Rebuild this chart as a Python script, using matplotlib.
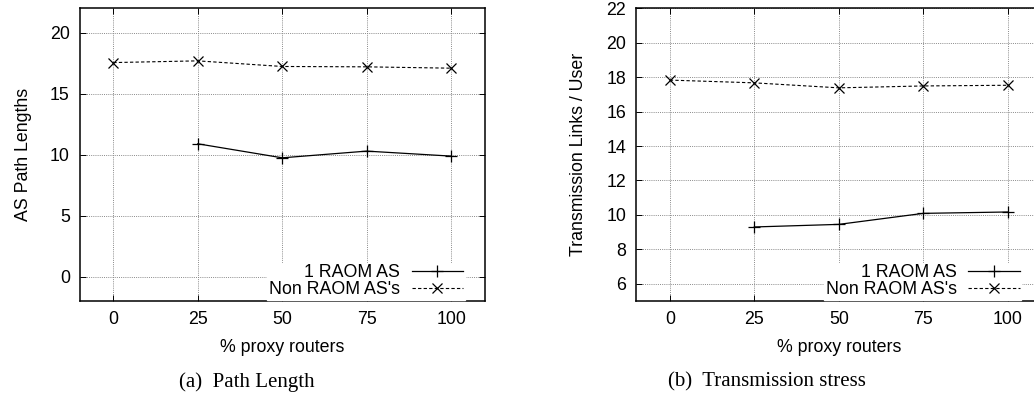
import matplotlib
matplotlib.use("Agg")
import matplotlib.pyplot as plt

# ---- data ----
proxy_pct = [0, 25, 50, 75, 100]
raom_x = [25, 50, 75, 100]

path_raom = [10.89, 9.74, 10.29, 9.88]
path_non = [17.55, 17.69, 17.23, 17.20, 17.09]

stress_raom = [9.30, 9.45, 10.09, 10.17]
stress_non = [17.83, 17.67, 17.38, 17.49, 17.53]

labels = ["1 RAOM AS", "Non RAOM AS's"]
xticks = [0, 25, 50, 75, 100]
path_yticks = [0, 5, 10, 15, 20]
stress_yticks = [6, 8, 10, 12, 14, 16, 18, 20, 22]

plt.rcParams['font.family'] = ['Liberation Sans', 'DejaVu Sans']

W, H = 1034, 400
FS = 12.8
fig = plt.figure(figsize=(W / 100, H / 100), dpi=100)

def make_axes(x0, x1, y0, y1):
    return fig.add_axes([x0 / W, 1 - y1 / H, (x1 - x0) / W, (y1 - y0) / H])

def style(ax, yticks, ylim, ylabel, ylabelpad, x0, x1):
    ax.set_xlim(-10, 110)
    ax.set_ylim(*ylim)
    ax.set_xticks(xticks)
    ax.set_yticks(yticks)
    ax.grid(True, color='#8a8a8a', linestyle=(0, (1, 1.2)), linewidth=0.7)
    ax.set_axisbelow(True)
    ax.tick_params(direction='in', length=4, width=0.7, top=True, right=True,
                   labelsize=FS, pad=7)
    for s in ax.spines.values():
        s.set_linewidth(1.1)
    ax.set_xlabel("% proxy routers", fontsize=FS, labelpad=8)
    ax.set_ylabel(ylabel, fontsize=FS, labelpad=ylabelpad)
    # legend right edge ~22px left of the right spine, bottom at the axis line
    rx = (x1 - 20 - x0) / (x1 - x0)
    leg = ax.legend(loc='lower right', bbox_to_anchor=(rx, 0.003),
                    markerfirst=False, frameon=True,
                    fontsize=FS, handlelength=2.9, handletextpad=0.65,
                    labelspacing=0.0, borderaxespad=0.0, borderpad=0.1,
                    fancybox=False)
    leg.get_frame().set_edgecolor('white')
    leg.get_frame().set_facecolor('white')
    leg.get_frame().set_alpha(1.0)

def caption(ax, x_px, x0, x1, text):
    ax.text((x_px - x0) / (x1 - x0), -(382 - 301) / (301 - 8.3), text,
            transform=ax.transAxes, fontsize=15,
            family=['Liberation Serif', 'DejaVu Serif'], ha='center', va='center')

# left panel
L0, L1 = 79.5, 485
ax1 = make_axes(L0, L1, 8.3, 301)
ax1.plot(raom_x, path_raom, color='black', linewidth=0.9, marker='+',
         markersize=8, markeredgewidth=0.9, label=labels[0])
ax1.plot(proxy_pct, path_non, color='black', linewidth=0.8, linestyle=(0, (3, 2)),
         marker='x', markersize=7, markeredgewidth=0.9, label=labels[1])
style(ax1, path_yticks, (-2, 22), "AS Path Lengths", 13, L0, L1)
caption(ax1, 247, L0, L1, "(a)  Path Length")

# right panel
R0, R1 = 636, 1041.5
ax2 = make_axes(R0, R1, 8.3, 301)
ax2.plot(raom_x, stress_raom, color='black', linewidth=0.9, marker='+',
         markersize=8, markeredgewidth=0.9, label=labels[0])
ax2.plot(proxy_pct, stress_non, color='black', linewidth=0.8, linestyle=(0, (3, 2)),
         marker='x', markersize=7, markeredgewidth=0.9, label=labels[1])
style(ax2, stress_yticks, (5, 22), "Transmission Links / User", 14, R0, R1)
caption(ax2, 767, R0, R1, "(b)  Transmission stress")

fig.savefig("out.png", dpi=100)
